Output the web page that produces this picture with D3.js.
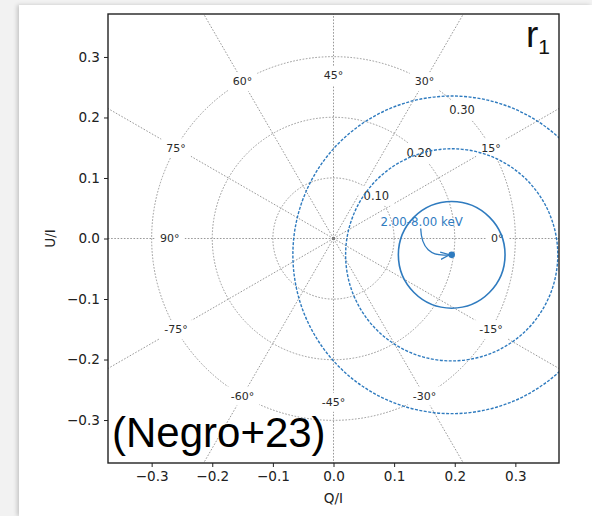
<!DOCTYPE html>
<html>
<head>
<meta charset="utf-8">
<script src="https://cdn.jsdelivr.net/npm/d3@7"></script>
<style>
  html, body { margin: 0; padding: 0; background: #f2f2f2; }
  #card { position: absolute; left: 19px; top: 5px; width: 573px; height: 511px; background: #fff;
          box-shadow: -2px 0 4px rgba(0,0,0,0.18); }
  #chartDiv { position: absolute; left: 0; top: 0; }
</style>
</head>
<body>
<div id="card"></div>
<div id="chartDiv"></div>
<script>
// tick values on both axes
var xTicks = [-0.3, -0.2, -0.1, 0.0, 0.1, 0.2, 0.3];
var yTicks = [-0.3, -0.2, -0.1, 0.0, 0.1, 0.2, 0.3];

// polar grid: degree of polarization circles and their labels
var gridRadii = [0.1, 0.2, 0.3];
var radiusLabels = ["0.10", "0.20", "0.30"];

// polarization angle spokes (deg) and where their labels sit
var spokeAngles = [0, 15, 30, 45, 60, 75, 90, -15, -30, -45, -60, -75];
var spokeLabelR = [0.27, 0.30, 0.30, 0.27, 0.30, 0.30, 0.27, 0.30, 0.30, 0.27, 0.30, 0.30];

// measured point (Q/I, U/I) and contour radii
var measQ = 0.195, measU = -0.027;
var contourRadii = [0.088, 0.175, 0.262];
var bandLabel = "2.00-8.00 keV";
var bandLabelPos = [0.1455, 0.028];

var width = 592, height = 516;
var margin = {top: 14, right: 33, bottom: 53, left: 108};

var x = d3.scaleLinear().domain([-0.372, 0.372]).range([margin.left, width - margin.right]);
var y = d3.scaleLinear().domain([-0.371, 0.371]).range([height - margin.bottom, margin.top]);

var blue = "#2f7bbf";
var gray = "#8c8c8c";

var svg = d3.select("#chartDiv").append("svg")
	.attr("width", width)
	.attr("height", height)
	.style("font-family", "'DejaVu Sans', sans-serif");

var defs = svg.append("defs");
defs.append("clipPath").attr("id", "plotClip")
	.append("rect")
	.attr("x", x.range()[0]).attr("y", y.range()[1])
	.attr("width", x.range()[1] - x.range()[0])
	.attr("height", y.range()[0] - y.range()[1]);

defs.append("marker")
	.attr("id", "arrowHead")
	.attr("viewBox", "0 -5 10 10")
	.attr("refX", 9).attr("refY", 0)
	.attr("markerWidth", 7).attr("markerHeight", 7)
	.attr("orient", "auto")
	.append("path")
	.attr("d", "M0,-4L10,0L0,4")
	.attr("fill", "none")
	.attr("stroke", blue)
	.attr("stroke-width", 1.4);

var plot = svg.append("g").attr("clip-path", "url(#plotClip)");

var pxPerUnit = x(1) - x(0);

// grid circles
plot.selectAll(".gridCircle")
	.data(gridRadii)
	.enter().append("circle")
	.attr("class", "gridCircle")
	.attr("cx", x(0)).attr("cy", y(0))
	.attr("r", function(d) { return d * pxPerUnit; })
	.attr("fill", "none")
	.attr("stroke", gray)
	.attr("stroke-width", 0.9)
	.attr("stroke-dasharray", "1.6,1.6");

// spokes: polarization angle psi is drawn at 2*psi in the Q/U plane
plot.selectAll(".spoke")
	.data(spokeAngles)
	.enter().append("line")
	.attr("class", "spoke")
	.attr("x1", x(0)).attr("y1", y(0))
	.attr("x2", function(d) { return x(0.7 * Math.cos(2 * d * Math.PI / 180)); })
	.attr("y2", function(d) { return y(0.7 * Math.sin(2 * d * Math.PI / 180)); })
	.attr("stroke", gray)
	.attr("stroke-width", 0.9)
	.attr("stroke-dasharray", "1.6,1.6");

// labels with white boxes that break the grid lines
function boxedLabel(g, px, py, txt, size) {
	var lab = g.append("g").attr("transform", "translate(" + px + "," + py + ")");
	var t = lab.append("text")
		.attr("text-anchor", "middle")
		.attr("dy", "0.35em")
		.attr("font-size", size)
		.attr("fill", "#2a2a2a")
		.text(txt);
	var bb = t.node().getBBox();
	lab.insert("rect", "text")
		.attr("x", bb.x - 5).attr("y", bb.y - 3)
		.attr("width", bb.width + 10).attr("height", bb.height + 6)
		.attr("fill", "#fff");
}

spokeAngles.forEach(function(a, i) {
	var r = spokeLabelR[i];
	var th = 2 * a * Math.PI / 180;
	boxedLabel(plot, x(r * Math.cos(th)), y(r * Math.sin(th)), a + "°", 11);
});

gridRadii.forEach(function(r, i) {
	var th = Math.PI / 4;
	boxedLabel(plot, x(r * Math.cos(th)), y(r * Math.sin(th)), radiusLabels[i], 11.5);
});

// center dot where spokes meet
plot.append("circle")
	.attr("cx", x(0)).attr("cy", y(0)).attr("r", 1.8)
	.attr("fill", "#777");

// contours around measurement
plot.selectAll(".contour")
	.data(contourRadii)
	.enter().append("circle")
	.attr("class", "contour")
	.attr("cx", x(measQ)).attr("cy", y(measU))
	.attr("r", function(d) { return d * pxPerUnit; })
	.attr("fill", "none")
	.attr("stroke", blue)
	.attr("stroke-width", function(d, i) { return i == 0 ? 1.6 : 1.4; })
	.attr("stroke-dasharray", function(d, i) { return i == 0 ? null : "3,1.5"; });

plot.append("circle")
	.attr("cx", x(measQ)).attr("cy", y(measU)).attr("r", 3.3)
	.attr("fill", blue);

// annotation with curved arrow
plot.append("text")
	.attr("x", x(bandLabelPos[0])).attr("y", y(bandLabelPos[1]))
	.attr("text-anchor", "middle")
	.attr("dy", "0.35em")
	.attr("font-size", 11.8)
	.attr("fill", blue)
	.text(bandLabel);

var sx = x(bandLabelPos[0]) - 1, sy = y(bandLabelPos[1]) + 7;
var ex = x(measQ) - 3, ey = y(measU);
plot.append("path")
	.attr("d", "M" + sx + "," + sy + " Q" + (sx + 1) + "," + (ey + 3) + " " + ex + "," + ey)
	.attr("fill", "none")
	.attr("stroke", blue)
	.attr("stroke-width", 1.3)
	.attr("marker-end", "url(#arrowHead)");

// axes
var fmt = d3.format(".1f");
var xAxis = svg.append("g")
	.attr("transform", "translate(0," + y.range()[0] + ")")
	.call(d3.axisBottom(x).tickValues(xTicks).tickFormat(fmt).tickSizeOuter(0).tickSize(4).tickPadding(4));
var yAxis = svg.append("g")
	.attr("transform", "translate(" + x.range()[0] + ",0)")
	.call(d3.axisLeft(y).tickValues(yTicks).tickFormat(fmt).tickSizeOuter(0).tickSize(4).tickPadding(4));
[xAxis, yAxis].forEach(function(ax) {
	ax.selectAll("text").attr("font-size", 13.6).attr("fill", "#222").attr("font-family", "'DejaVu Sans', sans-serif");
	ax.selectAll("line").attr("stroke", "#222");
	ax.select(".domain").remove();
});

// frame
svg.append("rect")
	.attr("x", x.range()[0]).attr("y", y.range()[1])
	.attr("width", x.range()[1] - x.range()[0])
	.attr("height", y.range()[0] - y.range()[1])
	.attr("fill", "none")
	.attr("stroke", "#222")
	.attr("stroke-width", 1.4);

// axis titles
svg.append("text")
	.attr("x", x(0)).attr("y", 503)
	.attr("text-anchor", "middle")
	.attr("font-size", 13.6)
	.attr("fill", "#222")
	.text("Q/I");
svg.append("text")
	.attr("transform", "translate(55," + y(0) + ") rotate(-90)")
	.attr("text-anchor", "middle")
	.attr("font-size", 13.6)
	.attr("fill", "#222")
	.text("U/I");

// panel tag
var tag = svg.append("text")
	.attr("x", 526).attr("y", 47)
	.attr("font-family", "'Liberation Sans', Arial, sans-serif")
	.attr("fill", "#111");
tag.append("tspan").attr("font-size", 37).text("r");
tag.append("tspan").attr("font-size", 21).attr("dy", 7).text("1");

// reference text
svg.append("text")
	.attr("x", 112).attr("y", 447)
	.attr("font-family", "'Liberation Sans', Arial, sans-serif")
	.attr("font-size", 42)
	.attr("fill", "#000")
	.text("(Negro+23)");
</script>
</body>
</html>
